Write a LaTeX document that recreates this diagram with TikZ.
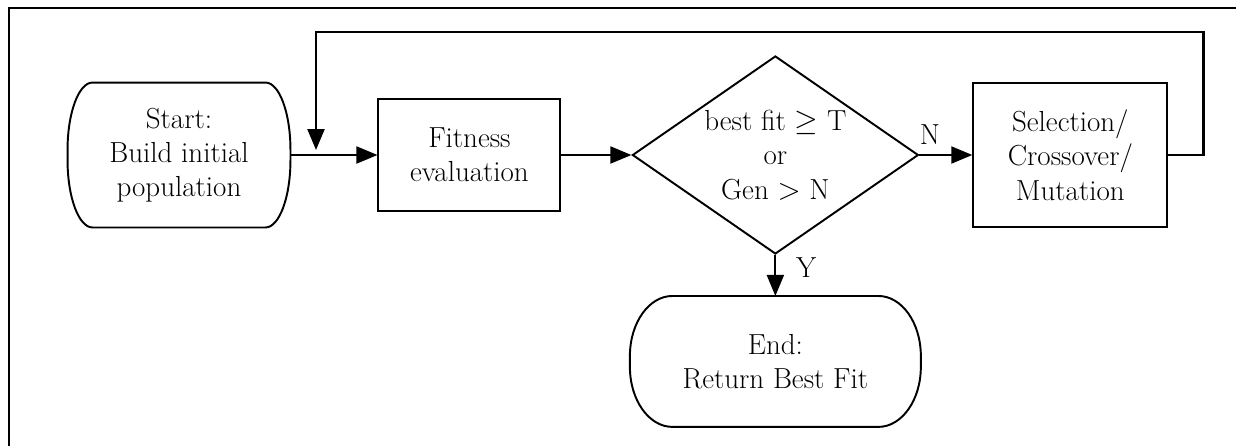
\documentclass[tikz,border=0pt]{standalone}
\usepackage{amsmath,amssymb}
\usepackage{tikz}
\usetikzlibrary{arrows.meta,shapes,positioning}

% outline of a start/end node: #1 node, #2 corner x radius, #3 corner y radius
\newcommand{\termoutline}[3]{%
	\draw ([xshift=#2]#1.north west) -- ([xshift=-#2]#1.north east)
	arc[start angle=90, end angle=0, x radius=#2, y radius=#3]
	-- ([yshift=#3]#1.south east)
	arc[start angle=0, end angle=-90, x radius=#2, y radius=#3]
	-- ([xshift=#2]#1.south west)
	arc[start angle=270, end angle=180, x radius=#2, y radius=#3]
	-- ([yshift=-#3]#1.north west)
	arc[start angle=180, end angle=90, x radius=#2, y radius=#3] -- cycle;}

\begin{document}
\begin{tikzpicture}[
		every node/.style = {font=\fontsize{16.5}{19.5}\selectfont, align=center},
		terminal/.style   = {rectangle, inner sep=0pt},
		process/.style    = {draw, rectangle, inner sep=0pt},
		decision/.style   = {draw, diamond, aspect=1.44, inner sep=0pt},
		feedback/.style   = {line width=1.4pt},
		line width=1.1pt,
		>={Triangle[length=0.42cm, width=0.34cm]}]
		
		\useasboundingbox (0,0) rectangle (24.72,-8.92);
		
		% frame, top and left only
		\draw[line width=1.3pt] (0.18,-8.92) -- (0.18,-0.16) -- (24.72,-0.16);
		
		% main row
		\node[terminal, minimum width=4.42cm, minimum height=2.86cm] (start) at (3.58,-3.10) {Start:\\Build initial\\population};
		\node[process, minimum width=3.64cm, minimum height=2.24cm, right=1.74cm of start] (fit) {Fitness\\evaluation};
		\node[decision, minimum width=5.72cm, minimum height=3.96cm, right=1.4cm of fit] (test) {best fit $\geq$ T\\or\\Gen $>$ N};
		\node[process, minimum width=3.88cm, minimum height=2.88cm, right=1.06cm of test] (sel) {Selection/\\Crossover/\\Mutation};
		
		% end of the run, below the test
		\node[terminal, minimum width=5.78cm, minimum height=2.58cm, below=0.82cm of test] (end) {End:\\Return Best Fit};
		
		\termoutline{start}{0.5cm}{1.35cm}
		\termoutline{end}{0.85cm}{1.2cm}
		
		% lines between the steps
		\draw[->] (start) -- (fit);
		\draw[->] (fit) -- (test);
		\draw[->] (test) -- node[pos=0.2, above, yshift=0.08cm] (nlab) {N} (sel);
		\draw[->] (test) -- node[pos=0.32, right, xshift=0.28cm] (ylab) {Y} (end);
		
		% loop back to the fitness evaluation
		\coordinate (join) at (6.32,-3.0);
		\coordinate (loop) at (6.32,-0.64);
		\draw[->, feedback] (sel.east) -- ++(0.7,0) |- (loop) -- (join);
		
	\end{tikzpicture}
\end{document}
